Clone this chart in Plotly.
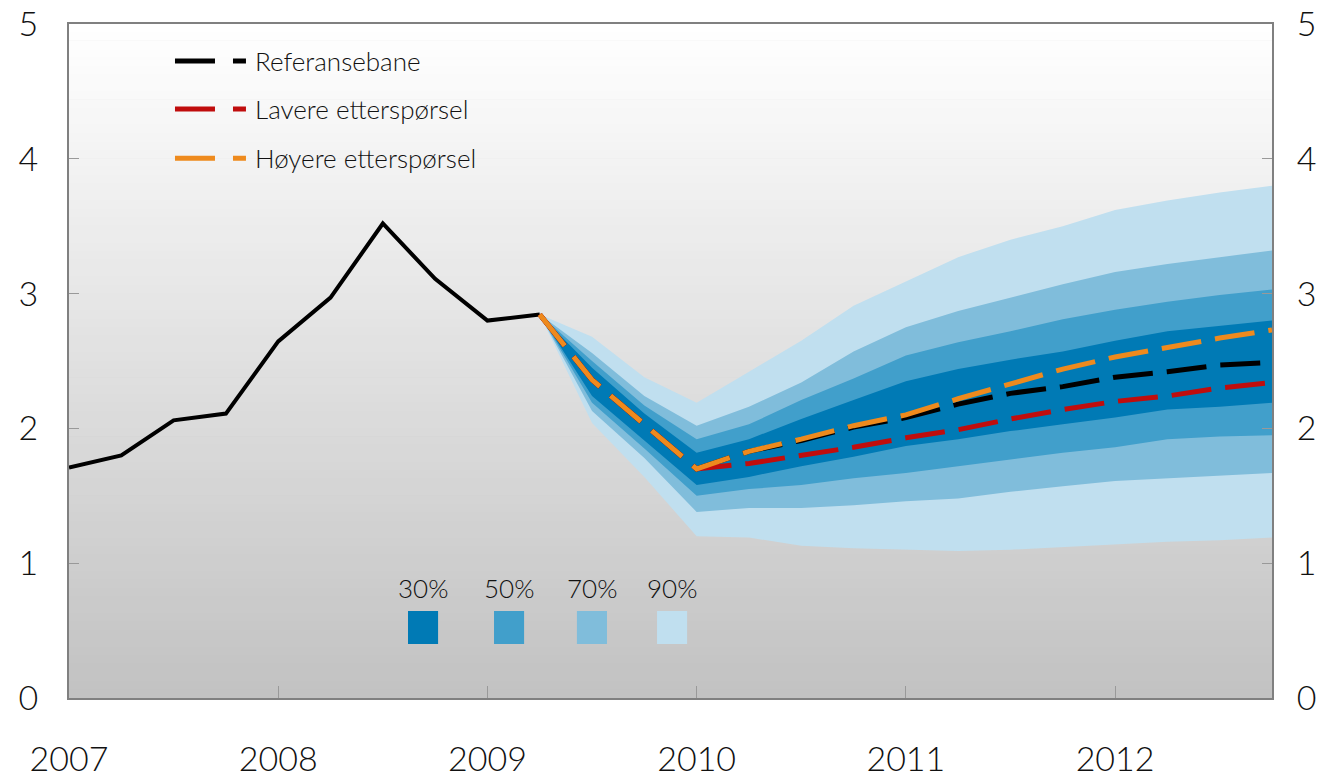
import plotly.graph_objects as go

# historikk (kvartal)
hist_x = [2007.0, 2007.25, 2007.5, 2007.75, 2008.0, 2008.25, 2008.5, 2008.75, 2009.0, 2009.25]
hist_y = [1.71, 1.80, 2.06, 2.11, 2.645, 2.97, 3.52, 3.11, 2.80, 2.845]

# prognoseperiode
fan_x = [2009.25, 2009.5, 2009.75, 2010.0, 2010.25, 2010.5, 2010.75, 2011.0,
         2011.25, 2011.5, 2011.75, 2012.0, 2012.25, 2012.5, 2012.75]

referanse = [2.845, 2.36, 2.03, 1.70, 1.83, 1.91, 2.01, 2.08, 2.18, 2.26, 2.31, 2.38, 2.42, 2.47, 2.49]
lavere = [2.845, 2.36, 2.03, 1.70, 1.74, 1.80, 1.86, 1.93, 1.99, 2.07, 2.14, 2.20, 2.24, 2.30, 2.34]
hoyere = [2.845, 2.36, 2.03, 1.70, 1.83, 1.92, 2.02, 2.10, 2.22, 2.33, 2.44, 2.53, 2.60, 2.67, 2.73]

p90_hi = [2.845, 2.68, 2.38, 2.19, 2.42, 2.65, 2.91, 3.09, 3.27, 3.40, 3.50, 3.62, 3.69, 3.75, 3.80]
p90_lo = [2.845, 2.04, 1.64, 1.20, 1.19, 1.13, 1.11, 1.10, 1.09, 1.10, 1.12, 1.14, 1.16, 1.17, 1.19]
p70_hi = [2.845, 2.56, 2.24, 2.02, 2.16, 2.34, 2.57, 2.75, 2.87, 2.97, 3.07, 3.16, 3.22, 3.27, 3.32]
p70_lo = [2.845, 2.13, 1.78, 1.38, 1.41, 1.41, 1.43, 1.46, 1.48, 1.53, 1.57, 1.61, 1.63, 1.65, 1.67]
p50_hi = [2.845, 2.50, 2.17, 1.92, 2.03, 2.21, 2.37, 2.54, 2.64, 2.72, 2.81, 2.88, 2.94, 2.99, 3.03]
p50_lo = [2.845, 2.19, 1.85, 1.50, 1.55, 1.58, 1.63, 1.67, 1.72, 1.77, 1.82, 1.86, 1.92, 1.94, 1.95]
p30_hi = [2.845, 2.45, 2.11, 1.82, 1.92, 2.07, 2.21, 2.35, 2.44, 2.51, 2.57, 2.65, 2.72, 2.76, 2.80]
p30_lo = [2.845, 2.24, 1.91, 1.58, 1.64, 1.72, 1.79, 1.87, 1.92, 1.98, 2.03, 2.08, 2.14, 2.16, 2.19]

band_labels = ["30%", "50%", "70%", "90%"]
band_colors = ["#007ab5", "#419fcb", "#80bddb", "#c0dfef"]

line_names = ["Referansebane", "Lavere etterspørsel", "Høyere etterspørsel"]
line_colors = ["black", "#c00d0d", "#ee8a1d"]

years = [2007, 2008, 2009, 2010, 2011, 2012]

FONT = "Lato"
TXT = "#111111"

fig = go.Figure()

# vifte: bredeste bånd først
bands = [(p90_hi, p90_lo, band_colors[3]), (p70_hi, p70_lo, band_colors[2]),
         (p50_hi, p50_lo, band_colors[1]), (p30_hi, p30_lo, band_colors[0])]
for hi, lo, col in bands:
    fig.add_trace(go.Scatter(x=fan_x + fan_x[::-1], y=hi + lo[::-1], fill="toself",
                             fillcolor=col, line=dict(width=0), mode="lines",
                             showlegend=False, hoverinfo="skip"))

fig.add_trace(go.Scatter(x=hist_x, y=hist_y, mode="lines", line=dict(color="black", width=4),
                         showlegend=False))

dash = "40px,14px"
for yv, name, col in zip([referanse, lavere, hoyere], line_names, line_colors):
    fig.add_trace(go.Scatter(x=fan_x, y=yv, mode="lines", name=name, showlegend=False,
                             line=dict(color=col, width=5, dash=dash)))

# usynlig spor for høyre akse
fig.add_trace(go.Scatter(x=[2007], y=[0], yaxis="y2", mode="markers",
                         marker=dict(opacity=0), showlegend=False, hoverinfo="skip"))

# gradert bakgrunn
shapes = []
n = 80
for i in range(n):
    t = i / (n - 1)
    g = int(round(255 - (255 - 194) * t))
    shapes.append(dict(type="rect", xref="paper", yref="paper", layer="below",
                       x0=0, x1=1, y0=1 - (i + 1) / n, y1=1 - i / n + 0.001,
                       fillcolor=f"rgb({g},{g},{g})", line=dict(width=0)))

annotations = []

# egen forklaring for linjene
leg_y = [0.945, 0.874, 0.801]
for name, col, ly in zip(line_names, line_colors, leg_y):
    shapes.append(dict(type="line", xref="paper", yref="paper", layer="above",
                       x0=0.0881, x1=0.1471, y0=ly, y1=ly,
                       line=dict(color=col, width=5, dash="40px,18px")))
    annotations.append(dict(xref="paper", yref="paper", x=0.153, y=ly, text=name,
                            showarrow=False, xanchor="left", yanchor="middle",
                            font=dict(family=FONT, size=26, color=TXT, weight=300)))

# forklaring for viften
sq_x = [0.2818, 0.3533, 0.4222, 0.4888]
for lab, col, x0 in zip(band_labels, band_colors, sq_x):
    shapes.append(dict(type="rect", xref="paper", yref="paper", layer="above",
                       x0=x0, x1=x0 + 0.025, y0=0.080, y1=0.129,
                       fillcolor=col, line=dict(width=0)))
    annotations.append(dict(xref="paper", yref="paper", x=x0 + 0.0125, y=0.163,
                            text=lab, showarrow=False, xanchor="center", yanchor="middle",
                            font=dict(family=FONT, size=26, color=TXT, weight=300)))

axis_font = dict(family=FONT, size=34, color=TXT, weight=300)

fig.update_layout(
    width=1332, height=778,
    margin=dict(l=69, r=60, t=24, b=80),
    paper_bgcolor="white", plot_bgcolor="#c2c2c2",
    font=dict(family=FONT, weight=300, color=TXT),
    shapes=shapes, annotations=annotations,
    showlegend=False,
    xaxis=dict(range=[2007, 2012.75], tickvals=years, ticktext=[str(y) for y in years],
               showgrid=False, zeroline=False, ticks="inside", ticklen=12, tickcolor="#999999",
               showline=True, linecolor="#808080", linewidth=2, mirror=True,
               tickfont=axis_font, ticklabelstandoff=30, automargin=False,
               ticklabeloverflow="allow"),
    yaxis=dict(range=[0, 5], tickvals=[0, 1, 2, 3, 4, 5], showgrid=False, zeroline=False,
               ticks="inside", ticklen=10, tickcolor="#999999",
               showline=True, linecolor="#808080", linewidth=2,
               tickfont=axis_font, ticklabelstandoff=22, automargin=False,
               ticklabeloverflow="allow"),
    yaxis2=dict(range=[0, 5], tickvals=[0, 1, 2, 3, 4, 5], overlaying="y", side="right",
                showgrid=False, zeroline=False, ticks="inside", ticklen=10, tickcolor="#999999",
                showline=True, linecolor="#808080", linewidth=2,
                tickfont=axis_font, ticklabelstandoff=16, automargin=False,
                ticklabeloverflow="allow"),
)

# fjern sidens standardmarg så figuren fyller vinduet
fig.write_html("out.html", config={"displayModeBar": False},
               post_script="document.body.style.margin='0';")
